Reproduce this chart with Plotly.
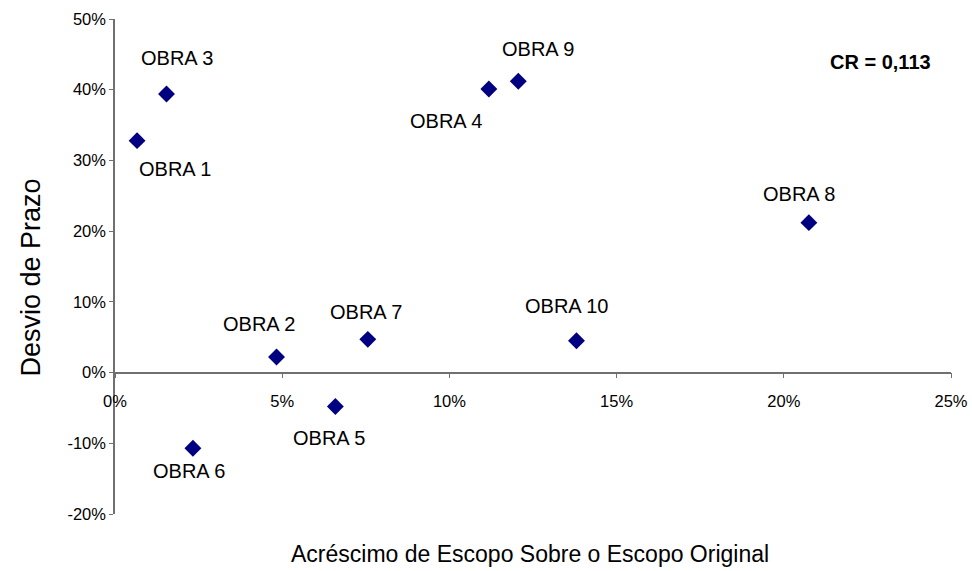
import plotly.graph_objects as go

# Scope growth (fraction of original scope) vs schedule deviation per project
obras = ["OBRA 1", "OBRA 2", "OBRA 3", "OBRA 4", "OBRA 5",
         "OBRA 6", "OBRA 7", "OBRA 8", "OBRA 9", "OBRA 10"]
acrescimo_escopo = [0.0066, 0.0483, 0.0154, 0.1118, 0.0659,
                    0.0233, 0.0756, 0.2075, 0.1206, 0.1380]
desvio_prazo = [0.328, 0.022, 0.394, 0.401, -0.048,
                -0.107, 0.047, 0.212, 0.412, 0.045]
cr_text = "CR = 0,113"

x_ticks = [0, 0.05, 0.10, 0.15, 0.20, 0.25]
x_tick_text = ["0%", "5%", "10%", "15%", "20%", "25%"]
y_ticks = [-0.2, -0.1, 0, 0.1, 0.2, 0.3, 0.4, 0.5]
y_tick_text = ["-20%", "-10%", "0%", "10%", "20%", "30%", "40%", "50%"]

# label placement offsets in pixels (dx, dy; dy positive = up)
label_offsets = [(38, -28), (-18, 33), (10, 36), (-43, -32), (-6, -31),
                 (-4, -23), (-2, 27), (-10, 29), (20, 32), (-10, 35)]

FONT = "Liberation Sans, Arial, sans-serif"

fig = go.Figure()
fig.add_trace(go.Scatter(
    x=acrescimo_escopo, y=desvio_prazo, mode="markers",
    marker=dict(symbol="diamond", size=13, color="#000080",
                line=dict(width=0)),
    showlegend=False, hoverinfo="skip",
))

for name, xv, yv, (dx, dy) in zip(obras, acrescimo_escopo, desvio_prazo, label_offsets):
    fig.add_annotation(x=xv, y=yv, xref="x", yref="y", text=name,
                       showarrow=False, xshift=dx, yshift=dy,
                       font=dict(family=FONT, size=20, color="black"))

fig.add_annotation(x=0.25, y=0.5, xref="x", yref="y", text=f"<b>{cr_text}</b>",
                   showarrow=False, xanchor="right", yanchor="middle",
                   xshift=-18, yshift=-43,
                   font=dict(family=FONT, size=20, color="black"))

y_min, y_max = -0.2, 0.5
fig.update_layout(
    width=972, height=571,
    margin=dict(l=115, r=21, t=19, b=57, autoexpand=False),
    paper_bgcolor="white", plot_bgcolor="white",
    font=dict(family=FONT, color="black"),
    xaxis=dict(
        range=[0, 0.25], tickvals=x_ticks, ticktext=x_tick_text,
        showgrid=False, zeroline=False, showline=True, linecolor="#707070",
        linewidth=1.5, ticks="outside", ticklen=5, tickcolor="#707070",
        anchor="free", position=(0 - y_min) / (y_max - y_min),
        ticklabelstandoff=9, automargin=False,
        tickfont=dict(family=FONT, size=16.5, color="black"),
    ),
    yaxis=dict(
        range=[y_min, y_max], tickvals=y_ticks, ticktext=y_tick_text,
        showgrid=False, zeroline=False, showline=True, linecolor="#707070",
        linewidth=1.5, ticks="outside", ticklen=4, tickcolor="#707070",
        automargin=False,
        tickfont=dict(family=FONT, size=16.5, color="black"),
    ),
)

fig.add_annotation(x=0.5, y=0, xref="paper", yref="paper", yanchor="middle",
                   yshift=-40, xshift=-3,
                   text="Acréscimo de Escopo Sobre o Escopo Original",
                   showarrow=False, font=dict(family=FONT, size=23, color="black"))
fig.add_annotation(x=0, y=0.5, xref="paper", yref="paper", xanchor="center",
                   xshift=-85, yshift=-11, text="Desvio de Prazo", textangle=-90,
                   showarrow=False, font=dict(family=FONT, size=27, color="black"))

fig.write_html("out.html")
